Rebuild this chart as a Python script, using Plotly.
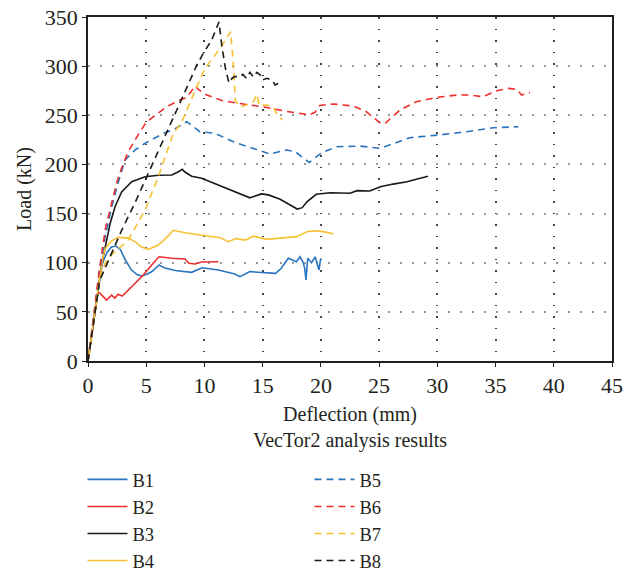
import plotly.graph_objects as go

# ---- data (deflection mm, load kN) ----
b1_x = [0, 0.6, 1.2, 1.6, 2.0, 2.4, 2.8, 3.2, 3.7, 4.2, 4.6, 5.0, 5.5, 6.1, 6.6, 7.5, 8.9, 9.8, 11.2, 12.6, 13.05, 13.9, 15.6, 16.1, 16.6, 17.2, 17.9, 18.2, 18.45, 18.6, 18.72, 18.87, 19.2, 19.5, 19.84, 19.98]
b1_y = [0, 50, 98, 110, 116, 117, 113, 103, 93, 88, 86.5, 88, 91, 97.7, 94.5, 92, 90.2, 94.9, 92.6, 88.5, 85.8, 90.9, 89.9, 89.2, 94.3, 104.5, 101, 106, 101, 95, 82.4, 104.5, 100, 106, 92.6, 104.5]

b2_x = [0, 0.6, 0.85, 1.03, 1.31, 1.6, 2.03, 2.3, 2.6, 2.94, 3.32, 4.04, 4.75, 5.47, 6.1, 7.2, 8.33, 8.67, 9.2, 9.76, 11.2]
b2_y = [0, 52, 70, 69, 65.4, 62, 67, 64, 68, 66, 70.5, 79, 87.5, 97.7, 106, 104.5, 103.8, 99.4, 98.7, 100.7, 101]

b3_x = [0, 0.7, 1.2, 1.46, 1.9, 2.32, 2.89, 3.75, 4.9, 6.04, 7.2, 7.76, 8.1, 8.3, 8.9, 9.76, 11.34, 12.6, 13.9, 14.9, 15.5, 16.5, 17.5, 17.97, 18.4, 18.8, 19.6, 20.8, 22.5, 23.1, 24.2, 25.1, 26.2, 27.4, 28.2, 29.2]
b3_y = [0, 60, 100, 114.6, 140, 157, 172, 182.4, 187.5, 189, 189.2, 192.5, 195, 192.5, 188, 185.9, 178, 172, 166, 170, 169, 164.5, 158, 154.6, 156, 162, 169.6, 171.2, 170.6, 173.3, 173, 177.3, 180, 182.4, 185, 188]

b4_x = [0, 0.7, 1.2, 1.46, 2.0, 2.6, 3.5, 4.2, 4.6, 5.2, 6.04, 6.7, 7.33, 8.33, 10.05, 11.34, 12.05, 12.7, 13.5, 14.2, 15.35, 17.06, 17.9, 18.8, 19.4, 20.2, 21.07]
b4_y = [0, 60, 100, 114, 122, 125.8, 125, 120, 116, 113.6, 118, 125, 133, 130.5, 128, 125.5, 121.4, 124.5, 123, 127, 123.8, 125.5, 126.5, 131.6, 132.5, 131.6, 129.5]

b5_x = [0, 1.0, 1.5, 2.0, 2.5, 3.18, 4.04, 4.9, 6.6, 7.3, 8.47, 9.6, 10.9, 12.5, 15.6, 17.06, 17.8, 19.0, 20.07, 21.36, 23.36, 25.1, 27.65, 30.2, 32.5, 34.8, 36.96]
b5_y = [0, 92, 128, 155, 178, 204.5, 214.7, 221.5, 232.3, 235, 243.5, 233.3, 231.7, 223, 210.6, 214.7, 213, 202, 212, 218, 218.7, 216.4, 227.2, 230, 233.3, 237.3, 238.4]

b6_x = [0, 1.0, 1.5, 2.0, 2.5, 3.0, 3.5, 4.2, 5.0, 6.0, 6.75, 8.0, 8.5, 9.2, 9.5, 10.2, 11.5, 12.5, 15.35, 17.0, 18.2, 19.0, 19.5, 19.9, 21.07, 22.8, 23.9, 25.1, 25.5, 26.8, 28.2, 29.95, 31.7, 32.8, 33.9, 35.1, 36.1, 36.8, 37.25, 37.96]
b6_y = [0, 95, 135, 160, 183, 200, 214, 228, 243, 252, 258.7, 266, 268, 280, 276, 270.6, 265, 263, 258, 254, 252, 250.5, 253, 260, 261.5, 259.4, 253.6, 242, 241.5, 255.4, 263.8, 268.3, 270.6, 270.6, 268.9, 275, 277.4, 276.4, 270.6, 273]

b7_x = [0, 1.0, 1.5, 2.0, 2.5, 3.46, 4.9, 6.04, 7.33, 8.05, 8.9, 10.05, 11.34, 12.0, 12.25, 12.5, 12.65, 13.05, 13.6, 14.2, 14.4, 14.5, 14.7, 15.35, 15.9, 16.2, 16.7]
b7_y = [0, 85, 100, 108, 113, 123, 153.6, 187.5, 231.7, 243, 267, 297.8, 318, 330, 335, 300, 265, 258.7, 260.4, 263.8, 268, 271.3, 260, 260.4, 258.7, 252, 245]

b8_x = [0, 1.0, 1.6, 2.03, 2.46, 2.89, 4.0, 5.0, 6.9, 8.33, 9.3, 10.0, 10.6, 11.25, 11.5, 11.8, 12.1, 12.4, 12.6, 13.05, 13.3, 13.6, 13.9, 14.2, 14.5, 14.8, 15.0, 15.35, 15.8, 16.06, 16.35, 16.5]
b8_y = [0, 82, 98, 110, 121, 133, 160, 186, 235, 274, 300, 315, 326, 345, 320, 298, 283, 288, 289.3, 289.3, 291.6, 287.5, 293.7, 289, 293.7, 291, 285.9, 287.6, 285.9, 280.8, 282.5, 286]

x_ticks = [0, 5, 10, 15, 20, 25, 30, 35, 40, 45]
y_ticks = [0, 50, 100, 150, 200, 250, 300, 350]

names = ["B1", "B2", "B3", "B4", "B5", "B6", "B7", "B8"]
xs = [b1_x, b2_x, b3_x, b4_x, b5_x, b6_x, b7_x, b8_x]
ys = [b1_y, b2_y, b3_y, b4_y, b5_y, b6_y, b7_y, b8_y]
colors = ["#2a74c0", "#ee2d2d", "#1a1a1a", "#f6c033", "#2a74c0", "#ee2d2d", "#f6c033", "#1a1a1a"]
dashes = ["solid"] * 4 + ["7px,5px"] * 4
legends = ["legend"] * 4 + ["legend2"] * 4

FONT = "Liberation Serif"
INK = "#231f20"

fig = go.Figure()
for n, x, y, c, d, lg in zip(names, xs, ys, colors, dashes, legends):
    fig.add_trace(go.Scatter(x=x, y=y, name=n, mode="lines",
                             line=dict(color=c, width=1.6, dash=d),
                             legend=lg))

leg_common = dict(yanchor="top", xanchor="left", y=-0.2904,
                  font=dict(family=FONT, size=18.5, color=INK),
                  tracegroupgap=0, bgcolor="rgba(0,0,0,0)", itemwidth=40,
                  borderwidth=0, maxheight=200)

fig.update_layout(
    width=637, height=571,
    margin=dict(l=88, r=25, t=17, b=210, autoexpand=False),
    paper_bgcolor="white", plot_bgcolor="white",
    font=dict(family=FONT, size=20, color=INK),
    showlegend=True,
    legend=dict(x=-0.0105, **leg_common),
    legend2=dict(x=0.4227, **leg_common),
)

fig.update_xaxes(
    range=[0, 45], tickvals=x_ticks,
    showline=True, linecolor=INK, linewidth=1.5, mirror=True,
    ticks="outside", ticklen=4, tickcolor=INK,
    showgrid=True, gridcolor="#444444", gridwidth=1.5, griddash="1.5px,10px",
    zeroline=False,
    title=dict(text="Deflection (mm)<br>VecTor2 analysis results",
               font=dict(family=FONT, size=20), standoff=10),
    tickfont=dict(family=FONT, size=22),
)
fig.update_yaxes(
    range=[0, 350], tickvals=y_ticks,
    showline=True, linecolor=INK, linewidth=1.5, mirror=True,
    ticks="outside", ticklen=4, tickcolor=INK,
    showgrid=True, gridcolor="#999999", gridwidth=2, griddash="2px,10px",
    zeroline=False,
    title=dict(text="Load (kN)", font=dict(family=FONT, size=20), standoff=8),
    tickfont=dict(family=FONT, size=22),
)

fig.write_html("out.html")
